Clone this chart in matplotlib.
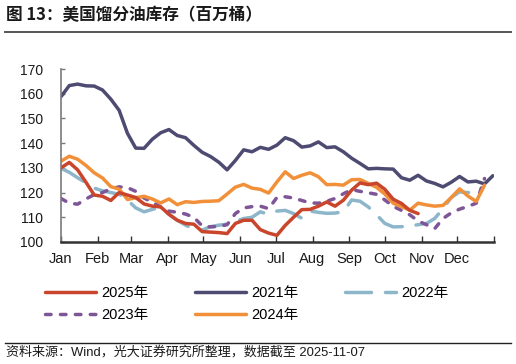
import matplotlib
matplotlib.use("Agg")
import matplotlib.pyplot as plt
import numpy as np
from matplotlib.lines import Line2D

plt.rcParams["font.family"] = ["Liberation Sans", "Noto Sans CJK SC", "DejaVu Sans"]

# weekly distillate stocks, million barrels
stocks_2021 = [158.8, 163.3, 163.9, 163.2, 163.1, 161.5, 157.8, 153.3, 144.0, 138.0,
               137.9, 141.6, 144.2, 145.5, 143.1, 142.2, 139.1, 136.3, 134.6, 132.3,
               129.2, 133.0, 137.3, 136.5, 138.3, 137.5, 139.2, 142.2, 141.0, 138.4,
               138.9, 140.5, 138.2, 138.5, 136.5, 133.9, 131.8, 129.6, 129.8, 129.6,
               129.5, 126.0, 125.0, 127.0, 124.7, 123.7, 122.3, 124.2, 126.5, 124.3,
               124.6, 123.5, 126.8]
stocks_2022 = [129.8, 128.2, 126.0, 124.0, 121.8, 120.7, 120.0, 119.3, 117.0, 113.8,
               112.2, 113.2, 114.0, 111.2, 108.8, 106.8, 105.3, 104.8, 106.2, 106.8,
               107.2, 108.3, 109.5, 110.0, 112.2, 111.2, 112.5, 112.8, 111.5, 109.6,
               112.5, 112.0, 111.6, 111.7, 112.2, 117.0, 116.5, 114.2, 111.0, 107.5,
               106.1, 106.2, 106.5, 107.0, 107.5, 109.5, 113.5, 118.0, 120.3, 120.0,
               120.2]
stocks_2023 = [117.6, 115.7, 115.3, 117.4, 119.2, 120.0, 121.5, 122.3, 122.0, 120.5,
               117.8, 116.1, 114.2, 112.5, 112.0, 111.3, 110.0, 106.5, 106.1, 106.3,
               107.0, 111.5, 113.8, 114.3, 114.5, 113.5, 118.0, 118.3, 117.8, 116.8,
               115.8, 115.7, 116.5, 117.6, 119.5, 121.2, 120.5, 119.9, 119.3, 117.0,
               114.4, 112.8, 111.0, 108.5, 107.0, 105.4, 109.5, 111.8, 113.3, 114.4,
               115.7, 125.7]
stocks_2024 = [132.7, 134.7, 133.5, 131.0, 128.0, 125.9, 122.4, 121.4, 117.2, 117.9,
               118.5, 117.4, 115.8, 117.4, 115.1, 116.3, 116.0, 116.4, 116.5, 116.7,
               119.4, 122.2, 123.3, 121.8, 121.3, 119.8, 124.3, 128.4, 125.7, 127.0,
               128.0, 126.4, 123.2, 123.3, 123.0, 125.2, 125.3, 123.7, 122.1, 119.4,
               115.7, 114.3, 112.9, 115.7, 115.0, 114.5, 114.8, 118.0, 121.5, 118.6,
               116.4, 123.0]
stocks_2025 = [130.0, 132.2, 129.2, 124.2, 119.0, 118.5, 116.8, 120.0, 119.0, 118.0,
               115.4, 114.5, 114.2, 111.2, 108.8, 107.5, 107.2, 104.2, 104.0, 103.8,
               103.4, 107.5, 108.8, 108.8, 105.0, 103.6, 102.7, 106.7, 110.0, 113.1,
               113.2, 114.5, 116.2, 114.5, 116.9, 121.0, 123.9, 123.2, 123.8, 121.3,
               117.3, 115.6, 112.8, 111.5]

month_labels = ["Jan", "Feb", "Mar", "Apr", "May", "Jun",
                "Jul", "Aug", "Sep", "Oct", "Nov", "Dec"]
month_days = [31, 28, 31, 30, 31, 30, 31, 31, 30, 31, 30, 31]


def week_days(values):
    # one reading per week, placed by day of year
    return np.arange(len(values)) * 7


fig = plt.figure(figsize=(5.16, 3.64), dpi=100)
ax = fig.add_axes([0.1182, 0.3352, 0.8392, 0.4752])

lw = 2.5
h21, = ax.plot(week_days(stocks_2021), stocks_2021, color="#4E4B72", lw=lw,
               solid_capstyle="round", label="2021年")
h22, = ax.plot(week_days(stocks_2022), stocks_2022, color="#8DB6CB", lw=lw,
               dashes=(7.5, 4.0), dash_capstyle="round", label="2022年")
h23, = ax.plot(week_days(stocks_2023), stocks_2023, color="#7E5596", lw=lw,
               dashes=(1.6, 2.7), dash_capstyle="round", label="2023年")
h24, = ax.plot(week_days(stocks_2024), stocks_2024, color="#F2903A", lw=lw,
               solid_capstyle="round", label="2024年")
h25, = ax.plot(week_days(stocks_2025), stocks_2025, color="#C9452B", lw=lw,
               solid_capstyle="round", label="2025年")

ax.set_xlim(0, 365)
ax.set_ylim(100, 170)
ax.set_yticks(range(100, 171, 10))
month_starts = np.concatenate([[0], np.cumsum(month_days)])
ax.set_xticks(month_starts)
ax.set_xticklabels(month_labels + [""])

for side in ("top", "right"):
    ax.spines[side].set_visible(False)
ax.spines["left"].set_color("#7a7a7a")
ax.spines["left"].set_linewidth(1.2)
ax.spines["bottom"].set_color("#333333")
ax.spines["bottom"].set_linewidth(1.8)
ax.tick_params(axis="y", direction="in", length=3, width=1, color="#7a7a7a",
               labelsize=10, pad=13, labelcolor="#1a1a1a")
ax.tick_params(axis="x", direction="in", length=4, width=1, color="#333333",
               labelsize=10.5, pad=7, labelcolor="#1a1a1a")

# legend laid out row by row: 2025, 2021, 2022 / 2023, 2024
fig.legend([h25, h23, h21, h24, h22], ["2025年", "2023年", "2021年", "2024年", "2022年"],
           ncol=3, loc="upper left", bbox_to_anchor=(0.087, 0.215), frameon=False,
           fontsize=10.5, handlelength=3.5, handletextpad=0.35, columnspacing=3.2,
           labelspacing=0.55, borderpad=0, borderaxespad=0)

fig.text(0.011, 0.958, "图 13：美国馏分油库存（百万桶）", fontsize=12, fontweight="bold",
         family=["Noto Sans CJK SC", "DejaVu Sans"], va="center", ha="left", color="#1a1a1a")
fig.add_artist(Line2D([0.01, 0.99], [0.913, 0.913], transform=fig.transFigure,
                      color="#555555", lw=1.4))
fig.add_artist(Line2D([0.01, 0.99], [0.058, 0.058], transform=fig.transFigure,
                      color="#222222", lw=1.0))
fig.text(0.011, 0.033, "资料来源：Wind，光大证券研究所整理，数据截至 2025-11-07", fontsize=9.4,
         va="center", ha="left", color="#1a1a1a")

fig.savefig("out.png", dpi=100)
